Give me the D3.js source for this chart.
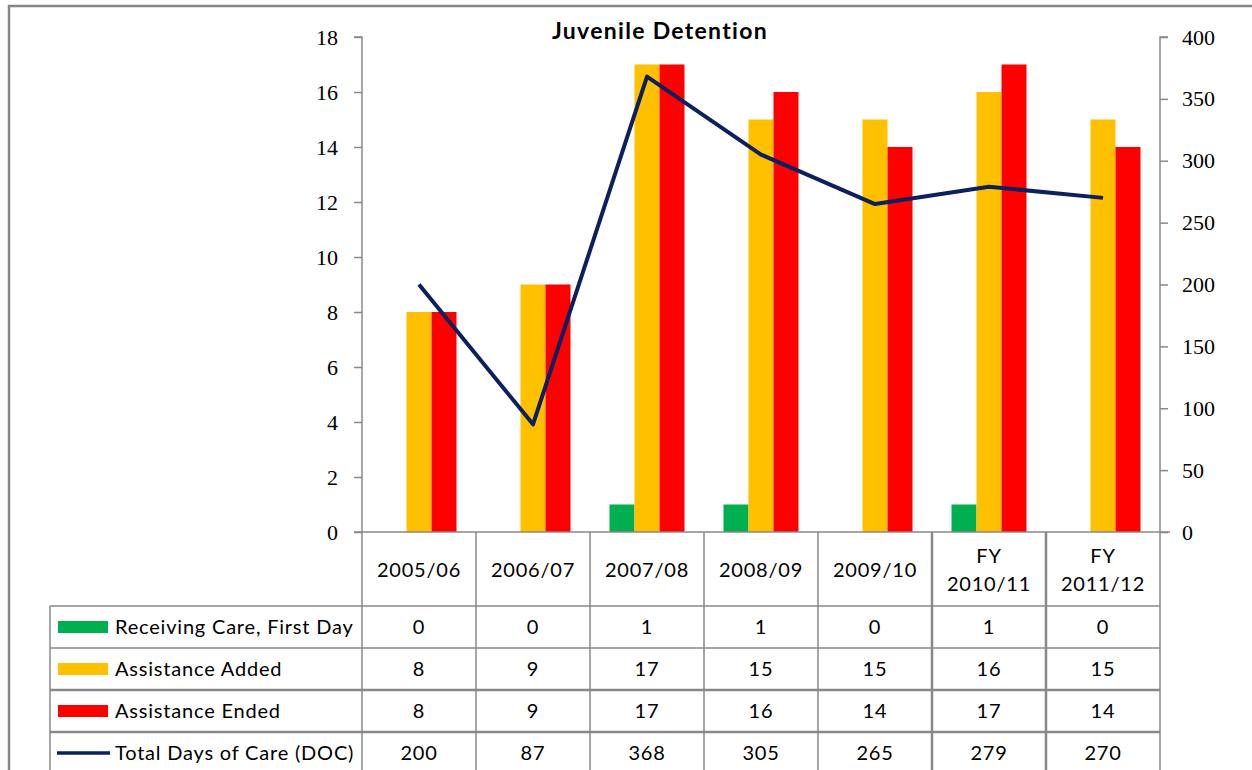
<!DOCTYPE html>
<html><head><meta charset="utf-8">
<script src="https://cdn.jsdelivr.net/npm/d3@7"></script>
<style>
html,body{margin:0;padding:0;background:#fff;}
svg{display:block;font-family:Lato,"Liberation Sans",sans-serif;}
</style></head>
<body>
<svg id="c" width="1252" height="770"></svg>
<script>
const categories = [["2005/06"],["2006/07"],["2007/08"],["2008/09"],["2009/10"],["FY","2010/11"],["FY","2011/12"]];
const receivingCare = [0,0,1,1,0,1,0];
const assistanceAdded = [8,9,17,15,15,16,15];
const assistanceEnded = [8,9,17,16,14,17,14];
const totalDOC = [200,87,368,305,265,279,270];
const leftTicks = [0,2,4,6,8,10,12,14,16,18];
const rightTicks = [0,50,100,150,200,250,300,350,400];
const seriesNames = ["Receiving Care, First Day","Assistance Added","Assistance Ended","Total Days of Care (DOC)"];
const colors = ["#00b050","#ffc000","#ff0000","#0c1f5e"];

const svg = d3.select("#c");
const L = 362, R = 1160, T = 37, B = 532;
const grid = "#898989";
const catKeys = categories.map((c,i)=>i);
const tickFont = "'Liberation Serif','Times New Roman',serif";

const x = d3.scaleBand().domain(catKeys).range([L,R]).padding(0);
const yL = d3.scaleLinear().domain([0,18]).range([B,T]);
const yR = d3.scaleLinear().domain([0,400]).range([B,T]);
const barSeries = [receivingCare, assistanceAdded, assistanceEnded];
const inner = d3.scaleBand().domain([0,1,2]).range([0,75]);
const groupOff = (x.bandwidth()-75)/2;

// outer border
svg.append("rect").attr("x",9).attr("y",6).attr("width",1260).attr("height",800)
  .attr("fill","none").attr("stroke","#868686").attr("stroke-width",2.5);

// title
svg.append("text").attr("x",660).attr("y",39).attr("text-anchor","middle")
  .attr("font-weight","bold").attr("font-size",23).attr("letter-spacing",1.3)
  .attr("fill","#000").text("Juvenile Detention");

// bars
barSeries.forEach((s,si)=>{
  svg.append("g").selectAll("rect").data(s).join("rect")
    .attr("x",(d,i)=>x(i)+groupOff+inner(si))
    .attr("width",inner.bandwidth())
    .attr("y",d=>yL(d)).attr("height",d=>B-yL(d))
    .attr("fill",colors[si]);
});

// left axis
const gl = svg.append("g").attr("transform",`translate(${L},0)`)
  .call(d3.axisLeft(yL).tickValues(leftTicks).tickSize(8).tickPadding(16));
gl.selectAll("path,line").attr("stroke",grid).attr("stroke-width",1.5);
gl.select(".domain").attr("d",`M-8,${T}H0V${B}`);
gl.selectAll("text").attr("font-size",22).attr("font-family",tickFont).attr("fill","#000");

// right axis
const gr = svg.append("g").attr("transform",`translate(${R},0)`)
  .call(d3.axisRight(yR).tickValues(rightTicks).tickSize(8).tickPadding(14));
gr.selectAll("path,line").attr("stroke",grid).attr("stroke-width",1.5);
gr.select(".domain").attr("d",`M8,${T}H0V${B}`);
gr.selectAll("text").attr("font-size",22).attr("font-family",tickFont).attr("fill","#000");

// baseline
svg.append("line").attr("x1",L-8).attr("x2",R+10).attr("y1",B).attr("y2",B)
  .attr("stroke",grid).attr("stroke-width",1.5);

// line series
const line = d3.line().x((d,i)=>x(i)+x.bandwidth()/2).y(d=>yR(d));
svg.append("path").datum(totalDOC).attr("d",line).attr("fill","none")
  .attr("stroke",colors[3]).attr("stroke-width",4).attr("stroke-linejoin","round");

// data table
const headerBottom = 606;
const rowYs = [606,648,690,732,774];
const tableLeft = 50;
const tg = svg.append("g");
catKeys.concat([7]).forEach(i=>{
  const xx = i<7 ? x(i) : R;
  const thick = (i===5||i===6);
  tg.append("line").attr("x1",xx).attr("x2",xx).attr("y1",B).attr("y2",770)
    .attr("stroke",grid).attr("stroke-width",thick?2.5:1.5);
});
tg.append("line").attr("x1",tableLeft).attr("x2",tableLeft).attr("y1",headerBottom).attr("y2",770)
  .attr("stroke",grid).attr("stroke-width",1.5);
rowYs.forEach((yy,ri)=>{
  const thick = (ri===2||ri===3);
  tg.append("line").attr("x1",tableLeft).attr("x2",R).attr("y1",yy).attr("y2",yy)
    .attr("stroke",grid).attr("stroke-width",thick?2.5:1.5);
});
categories.forEach((c,i)=>{
  const cx = x(i)+x.bandwidth()/2;
  const t = tg.append("text").attr("text-anchor","middle").attr("font-size",20)
    .attr("letter-spacing",0.8).attr("fill","#000");
  if(c.length===1){
    t.append("tspan").attr("x",cx).attr("y",577).text(c[0]);
  } else {
    t.append("tspan").attr("x",cx).attr("y",563).text(c[0]);
    t.append("tspan").attr("x",cx).attr("y",591).text(c[1]);
  }
});
const rows = [receivingCare, assistanceAdded, assistanceEnded, totalDOC];
rows.forEach((r,ri)=>{
  const cy = rowYs[ri] + 21;
  if(ri<3){
    tg.append("rect").attr("x",58).attr("y",cy-6).attr("width",50).attr("height",12).attr("fill",colors[ri]);
  } else {
    tg.append("line").attr("x1",57).attr("x2",110).attr("y1",cy).attr("y2",cy)
      .attr("stroke",colors[3]).attr("stroke-width",3.5);
  }
  tg.append("text").attr("x",115).attr("y",cy+7).attr("font-size",20).attr("letter-spacing",0.8)
    .attr("fill","#000").text(seriesNames[ri]);
  r.forEach((v,i)=>{
    tg.append("text").attr("x",x(i)+x.bandwidth()/2).attr("y",cy+7).attr("text-anchor","middle")
      .attr("font-size",20).attr("letter-spacing",0.8).attr("fill","#000").text(v);
  });
});
</script>
</body></html>
